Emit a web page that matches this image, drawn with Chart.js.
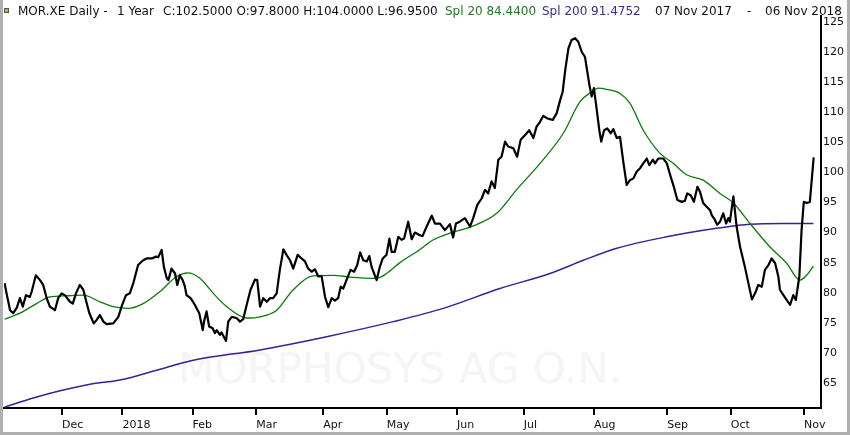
<!DOCTYPE html>
<html>
<head>
<meta charset="utf-8">
<title>MOR.XE Daily - 1 Year</title>
<script src="https://cdn.jsdelivr.net/npm/chart.js@4.4.1/dist/chart.umd.min.js"></script>
<style>
    html, body { margin: 0; padding: 0; background: #fff; }
    #wrap { position: relative; width: 850px; height: 435px; overflow: hidden; font-family: "DejaVu Sans", sans-serif; }
    #watermark { position: absolute; left: 178px; top: 348px; font-size: 42px; line-height: 42px; color: #f5f5f5; white-space: pre; }
    #chart { position: absolute; left: 0; top: 0; }
    .hdr { position: absolute; top: 4px; font-size: 12px; line-height: 14px; white-space: pre; color: #111; }
    #icon { position: absolute; left: 4px; top: 8px; width: 3px; height: 3px; background: #b8b040; border: 1px solid #555; }
    #frame { position: absolute; left: 0; top: 0; width: 850px; height: 435px; box-sizing: border-box;
             border-left: 3px solid #b0b0b0; border-right: 3px solid #b0b0b0; border-bottom: 3px solid #b0b0b0; pointer-events: none; }
</style>
</head>
<body>
<div id="wrap">
    <div id="watermark">MORPHOSYS AG O.N.</div>
    <canvas id="chart" width="850" height="435"></canvas>
    <div id="icon"></div>
    <div class="hdr" style="left:18px">MOR.XE Daily -</div>
    <div class="hdr" style="left:117px">1 Year</div>
    <div class="hdr" style="left:163px">C:102.5000 O:97.8000 H:104.0000 L:96.9500</div>
    <div class="hdr" style="left:445px; color:#1f7a1f">Spl 20 84.4400</div>
    <div class="hdr" style="left:542px; color:#3a2a8c">Spl 200 91.4752</div>
    <div class="hdr" style="left:655px">07 Nov 2017</div>
    <div class="hdr" style="left:747px">-</div>
    <div class="hdr" style="left:765px">06 Nov 2018</div>
    <div id="frame"></div>
</div>
<script>
// x values are trading days counted from 07 Nov 2017
const priceDay = [
    0, 0.6, 1.7, 2.7, 3.8, 4.8, 5.7, 6.7, 7.9, 8.5, 9.8, 11.1, 12.1, 13.2, 14.2, 15.8, 16.8, 17.9, 18.9, 20.5,
    21.4, 22.4, 23.6, 24.7, 25.5, 26.6, 28.0, 28.9, 29.9, 31.0, 32.0, 34.1, 35.7, 36.7, 38.1, 39.3, 40.4, 41.9, 43.5, 44.6,
    46.2, 47.5, 48.2, 49.3, 50.0, 50.9, 51.4, 52.4, 53.5, 54.2, 55.0, 55.9, 56.6, 57.1, 58.4, 59.7, 61.1, 62.2, 62.6, 63.4,
    64.2, 65.3, 66.0, 66.6, 67.6, 68.1, 69.5, 70.2, 71.3, 72.8, 73.9, 74.9, 76.0, 77.2, 78.6, 79.3, 80.2, 81.2, 82.3, 83.3,
    84.3, 85.4, 86.4, 87.5, 88.5, 89.6, 90.6, 92.0, 93.2, 94.3, 95.3, 96.4, 97.4, 98.5, 99.5, 100.6, 101.6, 102.7, 103.7, 104.7,
    105.5, 106.3, 107.4, 108.6, 109.7, 110.7, 111.6, 112.6, 113.7, 114.5, 115.2, 116.8, 117.8, 118.7, 119.9, 120.8, 121.5, 122.5, 123.6, 124.6,
    125.4, 126.7, 127.8, 128.8, 130.2, 131.2, 132.5, 134.1, 135.1, 136.7, 138.2, 139.8, 140.8, 141.7, 142.9, 144.5, 146.1, 147.1, 148.4, 149.8,
    150.8, 151.8, 152.9, 153.9, 155.0, 156.0, 157.1, 158.1, 159.7, 160.9, 162.0, 163.4, 164.7, 166.0, 167.0, 168.1, 169.1, 170.2, 172.1, 173.3,
    174.4, 175.2, 176.0, 177.0, 178.0, 179.1, 180.1, 181.2, 182.2, 183.0, 183.6, 184.3, 185.0, 185.9, 186.7, 187.3, 188.2, 189.2, 190.3, 191.1,
    192.2, 193.2, 194.3, 195.3, 196.3, 197.4, 198.4, 199.5, 200.5, 201.6, 202.4, 203.5, 204.2, 205.2, 206.8, 207.9, 209.1, 210.1, 211.2, 212.6,
    213.6, 214.3, 215.4, 216.4, 217.5, 218.3, 219.3, 220.4, 221.5, 222.0, 223.0, 223.7, 224.6, 225.6, 226.5, 227.2, 227.7, 228.8, 229.3, 229.8,
    230.9, 232.4, 233.5, 234.6, 235.6, 236.6, 237.7, 238.7, 239.8, 240.8, 241.9, 242.9, 243.4, 244.5, 245.5, 246.6, 247.6, 248.4, 249.5, 250.2,
    250.9, 251.8, 252.8, 254.0
];
const priceVal = [
    81.6, 79.9, 77.1, 76.6, 77.5, 79.1, 77.7, 79.6, 79.3, 80.2, 82.9, 82.1, 81.3, 79.1, 77.7, 77.1, 79.1, 79.9, 79.6, 78.5,
    78.2, 79.9, 81.3, 80.5, 78.8, 76.6, 74.9, 75.5, 76.3, 75.2, 74.8, 74.9, 76.0, 77.7, 79.6, 79.9, 81.6, 84.6, 85.4, 85.7,
    85.7, 86.0, 85.9, 87.1, 84.3, 82.4, 82.1, 84.0, 83.2, 81.3, 82.9, 82.1, 81.0, 79.6, 79.1, 78.0, 76.6, 73.8, 75.2, 76.9,
    74.4, 74.1, 73.3, 73.8, 73.0, 73.4, 72.0, 75.2, 76.0, 75.8, 75.2, 75.6, 78.0, 80.5, 82.2, 82.1, 77.7, 79.1, 78.5, 79.1,
    79.1, 79.9, 83.8, 87.2, 86.3, 85.4, 84.0, 86.3, 85.7, 85.2, 84.0, 83.5, 83.9, 82.7, 82.8, 79.3, 77.6, 79.1, 78.7, 79.1,
    81.0, 80.7, 82.2, 83.8, 83.5, 84.6, 86.7, 85.4, 85.2, 86.1, 84.3, 82.1, 84.3, 85.7, 86.3, 89.0, 86.8, 86.8, 89.3, 88.8,
    89.0, 91.8, 88.9, 90.0, 89.6, 89.4, 91.0, 92.8, 91.5, 91.5, 90.4, 91.4, 89.2, 91.5, 91.8, 92.4, 91.0, 92.4, 94.6, 95.7,
    97.1, 96.5, 98.5, 97.4, 102.1, 102.6, 105.1, 104.3, 104.0, 102.6, 105.4, 106.2, 107.0, 105.7, 107.6, 108.4, 109.4, 109.0, 108.7, 109.8,
    112.0, 113.4, 117.0, 120.6, 122.0, 122.3, 121.7, 120.0, 119.2, 116.5, 114.5, 112.6, 114.0, 110.4, 107.0, 105.1, 107.0, 107.3, 106.5, 107.2,
    105.7, 105.9, 101.5, 97.9, 98.7, 99.0, 100.1, 100.7, 101.5, 102.3, 101.2, 102.1, 101.5, 102.3, 102.3, 101.5, 99.3, 97.6, 95.4, 95.1,
    95.3, 96.5, 96.2, 95.1, 97.6, 96.8, 94.9, 94.3, 93.7, 92.9, 92.1, 91.3, 91.8, 93.2, 91.5, 92.4, 91.8, 96.0, 93.5, 91.0,
    87.6, 84.3, 81.6, 78.9, 79.9, 81.3, 81.0, 83.8, 84.6, 85.7, 84.9, 82.7, 80.5, 79.6, 78.8, 78.0, 79.6, 78.8, 82.7, 90.4,
    95.1, 94.9, 95.1, 102.5
];

const spl20Day = [0, 4.8, 10.0, 14.2, 19.5, 24.7, 29.9, 34.1, 38.8, 43.5, 48.8, 54.0, 57.6, 61.3, 65.5, 69.7, 76.0, 80.2, 85.4, 90.6,
    96.9, 103.2, 108.4, 116.8, 119.9, 124.1, 130.2, 134.6, 139.8, 146.6, 154.5, 160.7, 168.1, 175.4, 180.6, 184.3, 186.4, 189.0, 193.2, 196.3,
    200.5, 205.7, 209.9, 214.1, 219.3, 224.6, 228.8, 234.0, 240.3, 245.5, 249.7, 251.8, 253.9];
const spl20Val = [75.6, 76.6, 78.2, 79.3, 79.5, 79.6, 78.5, 77.7, 77.4, 78.2, 80.2, 82.7, 83.3, 82.4, 79.9, 77.7, 75.8, 76.0, 77.1, 80.5,
    82.8, 82.9, 82.6, 82.4, 83.2, 85.0, 87.1, 88.8, 89.9, 91.0, 93.2, 97.1, 101.5, 106.5, 111.7, 113.4, 114.0, 113.8, 113.1, 111.5,
    107.0, 103.2, 101.5, 99.6, 98.7, 96.5, 94.9, 91.5, 87.6, 84.9, 82.1, 82.9, 84.4];

const spl200Day = [0, 9.0, 17.4, 26.8, 36.2, 48.8, 59.2, 80.2, 101.1, 122.0, 137.7, 155.5, 171.2, 181.7, 192.2, 207.9, 223.5, 234.0, 244.4, 253.9];
const spl200Val = [61.0, 62.5, 63.7, 64.8, 65.5, 67.3, 68.8, 70.5, 72.7, 75.2, 77.4, 80.7, 83.2, 85.4, 87.4, 89.3, 90.7, 91.4, 91.5, 91.5];

const monthTickDay = [18, 37, 59, 79, 100, 120, 142, 163, 185, 208, 228, 251];
const monthTickLabel = ['Dec', '2018', 'Feb', 'Mar', 'Apr', 'May', 'Jun', 'Jul', 'Aug', 'Sep', 'Oct', 'Nov'];
const priceTicks = [65, 70, 75, 80, 85, 90, 95, 100, 105, 110, 115, 120, 125];

const toPoints = (days, vals) => days.map((d, i) => ({ x: d, y: vals[i] }));
const axisFont = { family: 'DejaVu Sans', size: 11 };

new Chart(document.getElementById('chart'), {
    type: 'line',
    data: {
        datasets: [
            {
                label: 'MOR.XE',
                data: toPoints(priceDay, priceVal),
                borderColor: '#000',
                borderWidth: 2.2,
                borderJoinStyle: 'round',
                pointRadius: 0,
                tension: 0
            },
            {
                label: 'Spl 20',
                data: toPoints(spl20Day, spl20Val),
                borderColor: '#0b7a0b',
                borderWidth: 1.3,
                pointRadius: 0,
                cubicInterpolationMode: 'monotone'
            },
            {
                label: 'Spl 200',
                data: toPoints(spl200Day, spl200Val),
                borderColor: '#3b1f96',
                borderWidth: 1.5,
                pointRadius: 0,
                cubicInterpolationMode: 'monotone'
            }
        ]
    },
    options: {
        responsive: false,
        devicePixelRatio: 1,
        animation: false,
        layout: { padding: { left: 4, top: 16, right: 0, bottom: 0 } },
        plugins: { legend: { display: false }, tooltip: { enabled: false } },
        scales: {
            x: {
                type: 'linear',
                min: -0.2,
                max: 256.3,
                afterBuildTicks: (s) => { s.ticks = monthTickDay.map(v => ({ value: v })); },
                afterFit: (s) => { s.height = 27; },
                ticks: {
                    callback: (v) => monthTickLabel[monthTickDay.indexOf(v)],
                    align: 'start',
                    autoSkip: false,
                    maxRotation: 0,
                    padding: 4,
                    color: '#111',
                    font: axisFont
                },
                grid: { drawOnChartArea: false, drawTicks: true, tickLength: 7, color: '#000', lineWidth: 2 },
                border: { display: true, color: '#000', width: 2 }
            },
            y: {
                position: 'right',
                min: 60.85,
                max: 125.98,
                afterBuildTicks: (s) => { s.ticks = priceTicks.map(v => ({ value: v })); },
                afterFit: (s) => { s.width = 29; },
                ticks: { padding: 2, color: '#111', font: axisFont },
                grid: { display: false, drawTicks: false },
                border: { display: true, color: '#000', width: 2 }
            }
        }
    }
});
</script>
</body>
</html>
